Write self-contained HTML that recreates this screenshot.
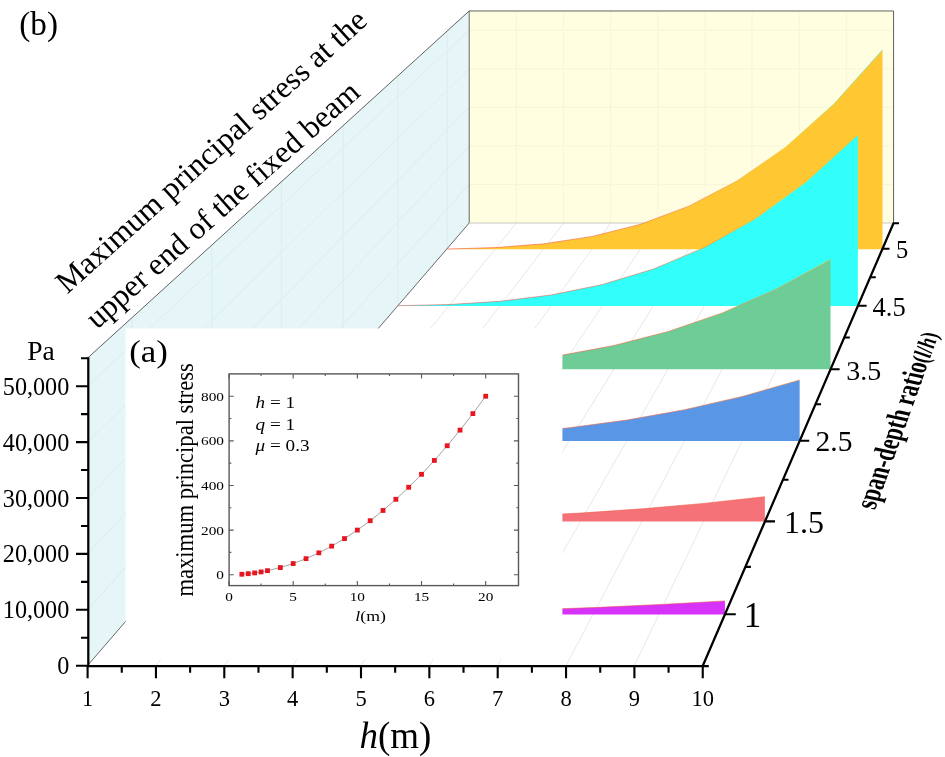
<!DOCTYPE html>
<html lang="en"><head><meta charset="utf-8"><title>Figure</title>
<style>html,body{margin:0;padding:0;background:#fff}svg{display:block}</style></head>
<body>
<svg width="945" height="757" viewBox="0 0 945 757">
<defs>
<linearGradient id="cm0" gradientUnits="userSpaceOnUse" x1="0" y1="249.0" x2="0" y2="51.2"><stop offset="0" stop-color="#f0504a"/><stop offset="0.25" stop-color="#f57a30"/><stop offset="0.5" stop-color="#f0d040"/><stop offset="0.75" stop-color="#80e070"/><stop offset="1" stop-color="#40e8e0"/></linearGradient>
<linearGradient id="cm1" gradientUnits="userSpaceOnUse" x1="0" y1="305.7" x2="0" y2="96.7"><stop offset="0" stop-color="#f0504a"/><stop offset="0.25" stop-color="#f57a30"/><stop offset="0.5" stop-color="#f0d040"/><stop offset="0.75" stop-color="#80e070"/><stop offset="1" stop-color="#40e8e0"/></linearGradient>
<linearGradient id="cm2" gradientUnits="userSpaceOnUse" x1="0" y1="369.2" x2="0" y2="147.8"><stop offset="0" stop-color="#f0504a"/><stop offset="0.25" stop-color="#f57a30"/><stop offset="0.5" stop-color="#f0d040"/><stop offset="0.75" stop-color="#80e070"/><stop offset="1" stop-color="#40e8e0"/></linearGradient>
<linearGradient id="cm3" gradientUnits="userSpaceOnUse" x1="0" y1="440.8" x2="0" y2="205.4"><stop offset="0" stop-color="#f0504a"/><stop offset="0.25" stop-color="#f57a30"/><stop offset="0.5" stop-color="#f0d040"/><stop offset="0.75" stop-color="#80e070"/><stop offset="1" stop-color="#40e8e0"/></linearGradient>
<linearGradient id="cm4" gradientUnits="userSpaceOnUse" x1="0" y1="521.4" x2="0" y2="270.1"><stop offset="0" stop-color="#f0504a"/><stop offset="0.25" stop-color="#f57a30"/><stop offset="0.5" stop-color="#f0d040"/><stop offset="0.75" stop-color="#80e070"/><stop offset="1" stop-color="#40e8e0"/></linearGradient>
<linearGradient id="cm5" gradientUnits="userSpaceOnUse" x1="0" y1="614.4" x2="0" y2="345.0"><stop offset="0" stop-color="#f0504a"/><stop offset="0.25" stop-color="#f57a30"/><stop offset="0.5" stop-color="#f0d040"/><stop offset="0.75" stop-color="#80e070"/><stop offset="1" stop-color="#40e8e0"/></linearGradient>
</defs>
<rect width="945" height="757" fill="#fff"/>
<polygon points="87.60,665.50 87.60,358.05 469.20,10.97 469.20,223.00" fill="#e6f6f8"/>
<polygon points="469.20,223.00 469.20,10.97 893.55,10.97 893.55,223.00" fill="#fffee0"/>
<path d="M87.60,609.60 L469.20,184.45 M87.60,553.70 L469.20,145.90 M87.60,497.80 L469.20,107.35 M87.60,441.90 L469.20,68.80 M87.60,386.00 L469.20,30.25 M131.94,614.08 L131.94,317.72 M211.85,521.42 L211.85,245.04 M281.38,440.80 L281.38,181.81 M343.12,369.20 L343.12,125.65 M397.88,305.70 L397.88,75.84 M447.11,248.62 L447.11,31.07" stroke="#dcecee" stroke-width="1" fill="none"/>
<path d="M469.20,184.45 L893.55,184.45 M469.20,145.90 L893.55,145.90 M469.20,107.35 L893.55,107.35 M469.20,68.80 L893.55,68.80 M469.20,30.25 L893.55,30.25 M516.35,223.00 L516.35,10.97 M563.50,223.00 L563.50,10.97 M610.65,223.00 L610.65,10.97 M657.80,223.00 L657.80,10.97 M704.95,223.00 L704.95,10.97 M752.10,223.00 L752.10,10.97 M799.25,223.00 L799.25,10.97 M846.40,223.00 L846.40,10.97" stroke="#f4f2d8" stroke-dasharray="3 1" stroke-width="1" fill="none"/>
<path d="M155.95,665.50 L516.35,223.00 M224.30,665.50 L563.50,223.00 M292.65,665.50 L610.65,223.00 M361.00,665.50 L657.80,223.00 M429.35,665.50 L704.95,223.00 M497.70,665.50 L752.10,223.00 M566.05,665.50 L799.25,223.00 M634.40,665.50 L846.40,223.00" stroke="#e8e8e8" stroke-width="1" fill="none"/>
<path d="M87.60,358.05 L469.20,10.97 L893.55,10.97 L893.55,223.00" stroke="#606060" stroke-width="1" fill="none"/>
<path d="M469.20,10.97 L469.20,223.00" stroke="#666" stroke-width="1" fill="none"/>
<path d="M87.60,665.50 L469.20,223.00" stroke="#606060" stroke-width="0.95" fill="none"/>
<path d="M469.20,223.00 L893.55,223.00" stroke="#c8c8c0" stroke-width="1.2" fill="none"/>
<polygon points="447.11,249.20 447.11,249.00 495.48,247.60 543.86,243.82 592.24,236.44 640.62,224.27 688.99,206.13 737.37,180.81 785.75,147.11 834.13,103.84 882.50,49.80 882.50,249.20" fill="#ffc832"/>
<polyline points="447.11,249.00 495.48,247.60 543.86,243.82 592.24,236.44 640.62,224.27 688.99,206.13 737.37,180.81 785.75,147.11 834.13,103.84 882.50,49.80" fill="none" stroke="url(#cm0)" stroke-width="0.8" stroke-opacity="0.7"/>
<polygon points="397.88,305.90 397.88,305.73 448.99,304.54 500.10,301.29 551.22,294.98 602.33,284.57 653.44,269.05 704.55,247.38 755.66,218.55 806.78,181.53 857.89,135.30 857.89,305.90" fill="#32fffa"/>
<polyline points="397.88,305.73 448.99,304.54 500.10,301.29 551.22,294.98 602.33,284.57 653.44,269.05 704.55,247.38 755.66,218.55 806.78,181.53 857.89,135.30" fill="none" stroke="url(#cm1)" stroke-width="0.8" stroke-opacity="0.7"/>
<polygon points="343.12,369.30 343.12,369.19 397.27,368.42 451.43,366.33 505.58,362.26 559.74,355.55 613.89,345.54 668.05,331.57 722.20,312.98 776.36,289.11 830.51,259.30 830.51,369.30" fill="#6ecd96"/>
<polyline points="343.12,369.19 397.27,368.42 451.43,366.33 505.58,362.26 559.74,355.55 613.89,345.54 668.05,331.57 722.20,312.98 776.36,289.11 830.51,259.30" fill="none" stroke="url(#cm2)" stroke-width="0.8" stroke-opacity="0.7"/>
<polygon points="281.38,440.90 281.38,440.84 338.96,440.41 396.55,439.26 454.13,437.00 511.72,433.29 569.30,427.75 626.88,420.01 684.47,409.72 742.05,396.50 799.64,380.00 799.64,440.90" fill="#5a96e6"/>
<polyline points="281.38,440.84 338.96,440.41 396.55,439.26 454.13,437.00 511.72,433.29 569.30,427.75 626.88,420.01 684.47,409.72 742.05,396.50 799.64,380.00" fill="none" stroke="url(#cm3)" stroke-width="0.8" stroke-opacity="0.7"/>
<polygon points="211.85,521.60 211.85,521.58 273.30,521.40 334.74,520.93 396.19,520.01 457.64,518.49 519.09,516.22 580.53,513.06 641.98,508.85 703.43,503.45 764.87,496.70 764.87,521.60" fill="#f57378"/>
<polyline points="211.85,521.58 273.30,521.40 334.74,520.93 396.19,520.01 457.64,518.49 519.09,516.22 580.53,513.06 641.98,508.85 703.43,503.45 764.87,496.70" fill="none" stroke="url(#cm4)" stroke-width="0.8" stroke-opacity="0.7"/>
<polygon points="131.94,614.60 131.94,614.59 197.83,614.49 263.72,614.23 329.60,613.72 395.49,612.89 461.37,611.64 527.26,609.90 593.15,607.59 659.03,604.61 724.92,600.90 724.92,614.60" fill="#d732fa"/>
<polyline points="131.94,614.59 197.83,614.49 263.72,614.23 329.60,613.72 395.49,612.89 461.37,611.64 527.26,609.90 593.15,607.59 659.03,604.61 724.92,600.90" fill="none" stroke="url(#cm5)" stroke-width="0.8" stroke-opacity="0.7"/>
<rect x="125.6" y="328.4" width="436.8" height="331.2" fill="#fff"/>
<g font-family="'Liberation Serif', 'Times New Roman', serif" fill="#000">
<polyline points="241.84,574.25 248.25,573.70 254.67,572.92 261.09,571.91 267.50,570.68 280.34,567.56 293.18,563.55 306.01,558.64 318.85,552.84 331.68,546.14 344.51,538.56 357.35,530.08 370.19,520.71 383.02,510.45 395.86,499.29 408.69,487.24 421.52,474.31 434.36,460.47 447.20,445.75 460.03,430.13 472.87,413.62 485.70,396.22" fill="none" stroke="#8a8a8a" stroke-width="0.8"/>
<rect x="239.44" y="571.85" width="4.8" height="4.8" fill="#e8141e"/>
<rect x="245.85" y="571.30" width="4.8" height="4.8" fill="#e8141e"/>
<rect x="252.27" y="570.52" width="4.8" height="4.8" fill="#e8141e"/>
<rect x="258.69" y="569.51" width="4.8" height="4.8" fill="#e8141e"/>
<rect x="265.11" y="568.28" width="4.8" height="4.8" fill="#e8141e"/>
<rect x="277.94" y="565.16" width="4.8" height="4.8" fill="#e8141e"/>
<rect x="290.78" y="561.15" width="4.8" height="4.8" fill="#e8141e"/>
<rect x="303.61" y="556.24" width="4.8" height="4.8" fill="#e8141e"/>
<rect x="316.45" y="550.44" width="4.8" height="4.8" fill="#e8141e"/>
<rect x="329.28" y="543.74" width="4.8" height="4.8" fill="#e8141e"/>
<rect x="342.12" y="536.16" width="4.8" height="4.8" fill="#e8141e"/>
<rect x="354.95" y="527.68" width="4.8" height="4.8" fill="#e8141e"/>
<rect x="367.79" y="518.31" width="4.8" height="4.8" fill="#e8141e"/>
<rect x="380.62" y="508.05" width="4.8" height="4.8" fill="#e8141e"/>
<rect x="393.46" y="496.89" width="4.8" height="4.8" fill="#e8141e"/>
<rect x="406.29" y="484.84" width="4.8" height="4.8" fill="#e8141e"/>
<rect x="419.12" y="471.91" width="4.8" height="4.8" fill="#e8141e"/>
<rect x="431.96" y="458.07" width="4.8" height="4.8" fill="#e8141e"/>
<rect x="444.80" y="443.35" width="4.8" height="4.8" fill="#e8141e"/>
<rect x="457.63" y="427.73" width="4.8" height="4.8" fill="#e8141e"/>
<rect x="470.47" y="411.22" width="4.8" height="4.8" fill="#e8141e"/>
<rect x="483.30" y="393.82" width="4.8" height="4.8" fill="#e8141e"/>
<rect x="229.10" y="373.90" width="289.40" height="211.70" fill="none" stroke="#585858" stroke-width="1.4"/>
<path d="M229.00 585.60 v-4.6 M229.00 373.90 v4.6 M293.18 585.60 v-4.6 M293.18 373.90 v4.6 M357.35 585.60 v-4.6 M357.35 373.90 v4.6 M421.52 585.60 v-4.6 M421.52 373.90 v4.6 M485.70 585.60 v-4.6 M485.70 373.90 v4.6 M261.09 585.60 v-2.2 M261.09 373.90 v2.2 M325.26 585.60 v-2.2 M325.26 373.90 v2.2 M389.44 585.60 v-2.2 M389.44 373.90 v2.2 M453.61 585.60 v-2.2 M453.61 373.90 v2.2 M229.10 574.70 h4.6 M518.50 574.70 h-4.6 M229.10 530.08 h4.6 M518.50 530.08 h-4.6 M229.10 485.46 h4.6 M518.50 485.46 h-4.6 M229.10 440.84 h4.6 M518.50 440.84 h-4.6 M229.10 396.22 h4.6 M518.50 396.22 h-4.6 M229.10 552.39 h2.2 M518.50 552.39 h-2.2 M229.10 507.77 h2.2 M518.50 507.77 h-2.2 M229.10 463.15 h2.2 M518.50 463.15 h-2.2 M229.10 418.53 h2.2 M518.50 418.53 h-2.2" stroke="#585858" stroke-width="1.1" fill="none"/>
<text transform="translate(229.00,600.60) scale(1.150,1)" font-size="13.30" text-anchor="middle">0</text>
<text transform="translate(293.18,600.60) scale(1.150,1)" font-size="13.30" text-anchor="middle">5</text>
<text transform="translate(357.35,600.60) scale(1.150,1)" font-size="13.30" text-anchor="middle">10</text>
<text transform="translate(421.52,600.60) scale(1.150,1)" font-size="13.30" text-anchor="middle">15</text>
<text transform="translate(485.70,600.60) scale(1.150,1)" font-size="13.30" text-anchor="middle">20</text>
<text transform="translate(224.00,579.20) scale(1.150,1)" font-size="13.30" text-anchor="end">0</text>
<text transform="translate(224.00,534.58) scale(1.150,1)" font-size="13.30" text-anchor="end">200</text>
<text transform="translate(224.00,489.96) scale(1.150,1)" font-size="13.30" text-anchor="end">400</text>
<text transform="translate(224.00,445.34) scale(1.150,1)" font-size="13.30" text-anchor="end">600</text>
<text transform="translate(224.00,400.72) scale(1.150,1)" font-size="13.30" text-anchor="end">800</text>
<text transform="translate(355.30,621.00) scale(1.170,1)" font-size="15.20" text-anchor="start"><tspan font-style="italic">l</tspan>(m)</text>
<text transform="translate(255.60,408.20) scale(1.170,1)" font-size="16.40" text-anchor="start"><tspan font-style="italic">h</tspan> = 1</text>
<text transform="translate(255.60,429.90) scale(1.170,1)" font-size="16.40" text-anchor="start"><tspan font-style="italic">q</tspan> = 1</text>
<text transform="translate(255.60,450.60) scale(1.170,1)" font-size="16.40" text-anchor="start"><tspan font-style="italic">μ</tspan> = 0.3</text>
<text transform="translate(193.3,596.6) scale(1.1,1) rotate(-90)" font-size="22.6">maximum principal stress</text>
<text transform="translate(129.20,362.30) scale(1.080,1)" font-size="32.30" text-anchor="start">(a)</text>
<text x="19.30" y="35.20" font-size="33.20" text-anchor="start" >(b)</text>
<path d="M88.30 666.50 V357.20 M86.70 666.00 H708.80 M702.80,665.70 L893.60,223.00" stroke="#000" stroke-width="2.25" fill="none" stroke-linecap="butt"/>
<path d="M88 665.70 H76 M88 609.80 H76 M88 553.90 H76 M88 498.00 H76 M88 442.10 H76 M88 386.20 H76 M88 637.75 H81 M88 581.85 H81 M88 525.95 H81 M88 470.05 H81 M88 414.15 H81 M88 358.25 H81 M87.60 665.7 V678.2 M155.95 665.7 V678.2 M224.30 665.7 V678.2 M292.65 665.7 V678.2 M361.00 665.7 V678.2 M429.35 665.7 V678.2 M497.70 665.7 V678.2 M566.05 665.7 V678.2 M634.40 665.7 V678.2 M702.75 665.7 V678.2 M121.77 665.7 V672.8 M190.12 665.7 V672.8 M258.48 665.7 V672.8 M326.82 665.7 V672.8 M395.17 665.7 V672.8 M463.52 665.7 V672.8 M531.88 665.7 V672.8 M600.23 665.7 V672.8 M668.57 665.7 V672.8 M724.90 614.30 H735.80 M765.00 521.40 H775.00 M799.80 440.80 H809.20 M830.60 369.20 H839.60 M858.00 305.70 H866.60 M882.50 248.80 H889.50 M745.40 566.90 h5.5 M783.00 479.70 h5.5 M815.56 404.20 h5.5 M844.32 337.50 h5.5 M870.28 277.30 h5.5 M893 223.2 h6" stroke="#000" stroke-width="2.1" fill="none"/>
<text x="69.30" y="674.20" font-size="24.20" text-anchor="end" >0</text>
<text x="69.30" y="618.30" font-size="24.20" text-anchor="end" >10,000</text>
<text x="69.30" y="562.40" font-size="24.20" text-anchor="end" >20,000</text>
<text x="69.30" y="506.50" font-size="24.20" text-anchor="end" >30,000</text>
<text x="69.30" y="450.60" font-size="24.20" text-anchor="end" >40,000</text>
<text x="69.30" y="394.70" font-size="24.20" text-anchor="end" >50,000</text>
<text x="27.30" y="359.50" font-size="27.50" text-anchor="start" >Pa</text>
<text x="87.60" y="706.00" font-size="22.50" text-anchor="middle" >1</text>
<text x="155.95" y="706.00" font-size="22.50" text-anchor="middle" >2</text>
<text x="224.30" y="706.00" font-size="22.50" text-anchor="middle" >3</text>
<text x="292.65" y="706.00" font-size="22.50" text-anchor="middle" >4</text>
<text x="361.00" y="706.00" font-size="22.50" text-anchor="middle" >5</text>
<text x="429.35" y="706.00" font-size="22.50" text-anchor="middle" >6</text>
<text x="497.70" y="706.00" font-size="22.50" text-anchor="middle" >7</text>
<text x="566.05" y="706.00" font-size="22.50" text-anchor="middle" >8</text>
<text x="634.40" y="706.00" font-size="22.50" text-anchor="middle" >9</text>
<text x="702.75" y="706.00" font-size="22.50" text-anchor="middle" >10</text>
<text x="359.50" y="747.80" font-size="37.00" text-anchor="start" ><tspan font-style="italic">h</tspan>(m)</text>
<text x="743.80" y="626.60" font-size="35.00" text-anchor="start" >1</text>
<text x="784.00" y="533.00" font-size="32.00" text-anchor="start" >1.5</text>
<text x="815.50" y="451.00" font-size="29.50" text-anchor="start" >2.5</text>
<text x="846.20" y="379.60" font-size="28.00" text-anchor="start" >3.5</text>
<text x="872.50" y="316.30" font-size="26.50" text-anchor="start" >4.5</text>
<text x="896.00" y="257.60" font-size="24.50" text-anchor="start" >5</text>
<text transform="translate(67.3,294.6) rotate(-42.0)" font-size="31.5">Maximum principal stress at the</text>
<text transform="translate(97.0,330.0) rotate(-41.6)" font-size="31.5">upper end of the fixed beam</text>
<text transform="matrix(0.2413,-0.6667,0.9781,0.2079,875.1,510.3)" font-size="31" font-weight="bold">span-depth ratio<tspan font-size="25">(<tspan font-style="italic">l</tspan>/<tspan font-style="italic">h</tspan>)</tspan></text>
</g>
</svg>
</body></html>
